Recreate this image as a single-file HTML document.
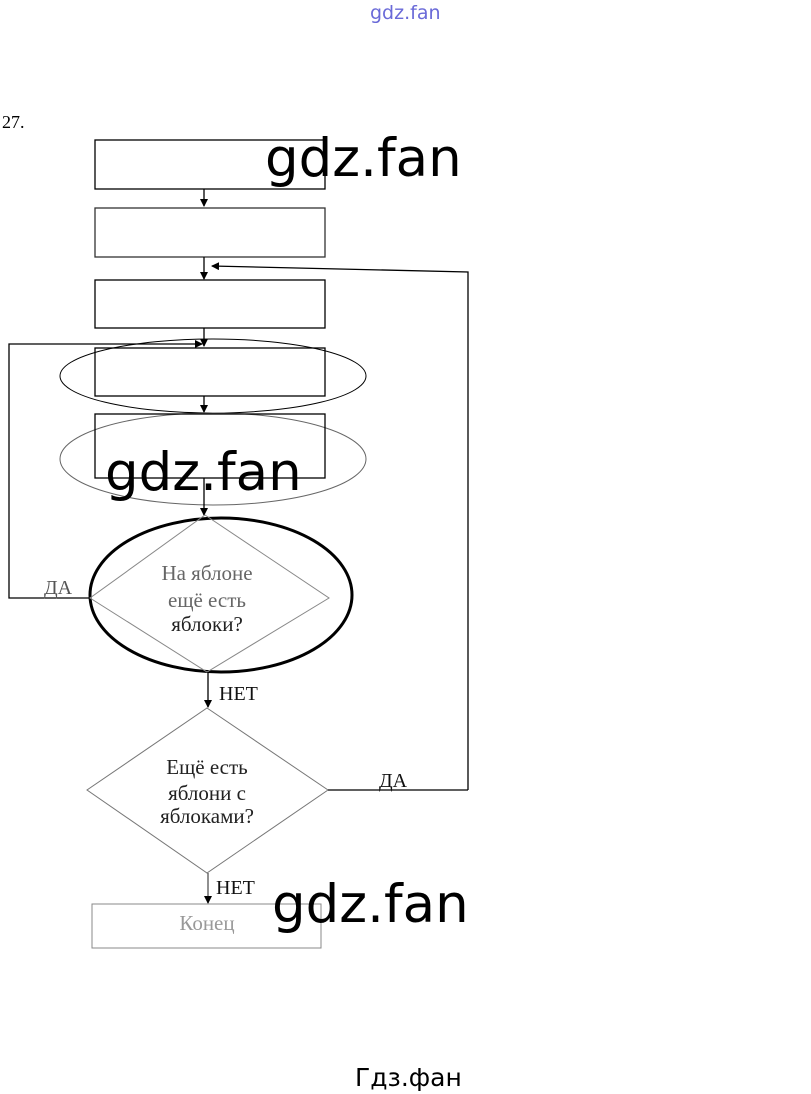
<!DOCTYPE html>
<html><head><meta charset="utf-8"><style>
body{margin:0;background:#fff;width:811px;height:1094px;overflow:hidden}
svg{display:block}
.s{font-family:"Liberation Serif","DejaVu Serif",serif}
.w{font-family:"DejaVu Sans","Liberation Sans",sans-serif}
</style></head><body>
<svg width="811" height="1094" viewBox="0 0 811 1094" xmlns="http://www.w3.org/2000/svg">
<defs><marker id="a" markerWidth="8" markerHeight="8" refX="7" refY="4" orient="auto" markerUnits="userSpaceOnUse"><path d="M0,0 L8,4 L0,8z" fill="#000"/></marker></defs>
<text x="370" y="19" class="w" font-size="19" fill="#6a6ad8">gdz.fan</text>
<text x="2" y="128" class="s" font-size="18">27.</text>
<g fill="none" stroke="#000" stroke-width="1.3">
<rect x="95" y="140" width="230" height="49"/>
<line x1="204" y1="189" x2="204" y2="206" marker-end="url(#a)"/>
<rect x="95" y="208" width="230" height="49" stroke="#333"/>
<line x1="204" y1="257" x2="204" y2="279" marker-end="url(#a)"/>
<polyline points="468,790 468,272 212,266" marker-end="url(#a)"/>
<rect x="95" y="280" width="230" height="48"/>
<line x1="204" y1="328" x2="204" y2="346" marker-end="url(#a)"/>
<polyline points="90,598 9,598 9,344 202,344" marker-end="url(#a)"/>
<ellipse cx="213" cy="376" rx="153" ry="37" stroke-width="1"/>
<rect x="95" y="348" width="230" height="48"/>
<line x1="204" y1="396" x2="204" y2="412" marker-end="url(#a)"/>
<ellipse cx="213" cy="459" rx="153" ry="46" stroke="#666" stroke-width="1"/>
<rect x="95" y="414" width="230" height="64"/>
<line x1="204" y1="478" x2="204" y2="515" marker-end="url(#a)"/>
<ellipse cx="221" cy="595" rx="131" ry="77" stroke-width="3"/>
<polygon points="205,515 329,598 207,672 90,598" stroke="#888" stroke-width="1"/>
<line x1="208" y1="672" x2="208" y2="707" marker-end="url(#a)"/>
<polygon points="207,708 328,790 207,873 87,790" stroke="#777" stroke-width="1"/>
<line x1="328" y1="790" x2="468" y2="790"/>
<line x1="208" y1="873" x2="208" y2="903" stroke="#555" marker-end="url(#a)"/>
<rect x="92" y="904" width="229" height="44" stroke="#888" stroke-width="1"/>
</g>
<g class="s" font-size="21" text-anchor="middle" fill="#222">
<text x="207" y="580" fill="#666">На яблоне</text>
<text x="207" y="607" fill="#666">ещё есть</text>
<text x="207" y="631">яблоки?</text>
<text x="207" y="774">Ещё есть</text>
<text x="207" y="800">яблони с</text>
<text x="207" y="823">яблоками?</text>
<text x="207" y="930" fill="#999">Конец</text>
</g>
<g class="s" font-size="20" fill="#111">
<text x="44" y="594" fill="#555">ДА</text>
<text x="219" y="700">НЕТ</text>
<text x="379" y="787">ДА</text>
<text x="216" y="894">НЕТ</text>
</g>
<g class="w" font-size="53" fill="#000">
<text x="265" y="176">gdz.fan</text>
<text x="105" y="490">gdz.fan</text>
<text x="272" y="922">gdz.fan</text>
</g>
<text x="355" y="1086" class="w" font-size="25">Гдз.фан</text>
</svg>
</body></html>
